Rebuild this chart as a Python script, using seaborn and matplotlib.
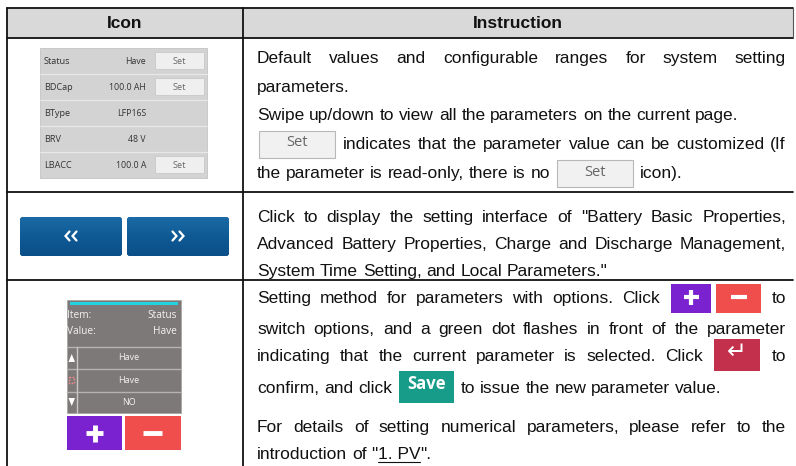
import re
import numpy as np
import matplotlib
matplotlib.use("Agg")
import matplotlib.pyplot as plt
from matplotlib.patches import Rectangle, FancyBboxPatch, Polygon
import seaborn as sns

sns.set_theme(style="white")
plt.rcParams['font.family'] = ['Liberation Sans', 'DejaVu Sans']

# ---- table content ----
headers = ["Icon", "Instruction"]

param_names = ["Status", "BDCap", "BType", "BRV", "LBACC"]
param_values = ["Have", "100.0 AH", "LFP16S", "48 V", "100.0 A"]
param_settable = [True, True, False, False, True]

nav_dirs = [-1, 1]   # << and >>

option_item = ["Item:", "Status"]
option_value = ["Value:", "Have"]
option_choices = ["Have", "Have", "NO"]

# (text, justified)  {..} = inline icon, [..] = underlined, ~ = space
row1_lines = [
    ("Default values and configurable ranges for system setting", True),
    ("parameters.", False),
    ("Swipe up/down to view all the parameters on the current page.", False),
    ("{SET} indicates that the parameter value can be customized (If", True),
    ("the parameter is read-only, there is no {SET} icon).", False),
]
row2_lines = [
    ('Click to display the setting interface of "Battery Basic Properties,', True),
    ("Advanced Battery Properties, Charge and Discharge Management,", True),
    ('System Time Setting, and Local Parameters."', False),
]
row3_lines = [
    ("Setting method for parameters with options. Click {PM} to", True),
    ("switch options, and a green dot flashes in front of the parameter", True),
    ("indicating that the current parameter is selected. Click {ENTER} to", True),
    ("confirm, and click {SAVE} to issue the new parameter value.", False),
    ("For details of setting numerical parameters, please refer to the", True),
    ('introduction of "[1.~PV]".', False),
]
row1_base = [63, 92, 120, 149, 178]
row2_base = [222, 249, 276]
row3_base = [303, 334, 361, 393, 432, 459]

BODY_FS = 12.5
W, H = 796, 466

fig = plt.figure(figsize=(W / 100, H / 100), dpi=100)
ax = fig.add_axes([0, 0, 1, 1])
ax.set_xlim(0, W)
ax.set_ylim(H, 0)
ax.axis("off")
renderer = fig.canvas.get_renderer()

# ---- grid ----
X0, XC, X1 = 7, 243, 793
Y0, YH, YR1, YR2 = 8, 38, 192, 280
ax.add_patch(Rectangle((X0, Y0), X1 - X0, YH - Y0, fc="#d9d9d9", ec="none"))
lk = dict(color="#111111", lw=1.3)
ax.plot([X0, X1], [Y0, Y0], **lk)
for y in (YH, YR1, YR2):
    ax.plot([X0, X1], [y, y], **lk)
ax.plot([X0, X0], [Y0, H], **lk)
ax.plot([XC, XC], [Y0, H], **lk)
ax.plot([X1, X1], [Y0, YH], color="#555555", lw=0.8)
ax.text((X0 + XC) / 2, (Y0 + YH) / 2 + 1, headers[0], ha="center", va="center",
        fontsize=12.5, weight="bold", color="#111111")
ax.text((XC + X1) / 2, (Y0 + YH) / 2 + 1, headers[1], ha="center", va="center",
        fontsize=12.5, weight="bold", color="#111111")

UI = ['Open Sans', 'DejaVu Sans']

# ---- icon 1 : parameter panel ----
px0, px1, py0, ph = 40, 207, 48, 26
ax.add_patch(Rectangle((px0, py0), px1 - px0, ph * len(param_names), fc="#d3d3d3", ec="#c4c4c4", lw=0.6))
for i, (nm, val, st) in enumerate(zip(param_names, param_values, param_settable)):
    yc = py0 + ph * i + ph / 2
    if i > 0:
        ax.plot([px0, px1], [py0 + ph * i] * 2, color="#e8e8e8", lw=0.9)
    ax.text(px0 + 4, yc, nm, ha="left", va="center", fontsize=6.6, family=UI, color="#333333")
    ax.text(146, yc, val, ha="right", va="center", fontsize=6.3, family=UI, color="#333333")
    if st:
        ax.add_patch(Rectangle((155, yc - 9), 49, 17, fc="#efefef", ec="#c9c9c9", lw=0.6))
        ax.text(179.5, yc, "Set", ha="center", va="center", fontsize=6.6, family=UI, color="#666666")

# ---- icon 2 : navigation buttons ----
grad = np.linspace(0, 1, 64).reshape(-1, 1)
cmap_nav = matplotlib.colors.LinearSegmentedColormap.from_list("nav", ["#1b6aa5", "#0f5a95", "#0b4f88"])
for (bx0, bx1), d in zip([(20, 122), (127, 229)], nav_dirs):
    box = FancyBboxPatch((bx0, 217), bx1 - bx0, 39, boxstyle="round,pad=0,rounding_size=3",
                         fc="#0f5a95", ec="none")
    ax.add_patch(box)
    im = ax.imshow(grad, extent=(bx0, bx1, 256, 217), cmap=cmap_nav, aspect="auto", zorder=2)
    im.set_clip_path(box)
    cx = (bx0 + bx1) / 2
    for off in (-3.5, 3.5):
        tip = cx + off + 2 * d
        ax.plot([tip - 4 * d, tip, tip - 4 * d], [231.5, 236, 240.5], color="white", lw=1.6,
                solid_joinstyle="miter", zorder=3)
ax.set_xlim(0, W)
ax.set_ylim(H, 0)

# ---- icon 3 : option selector ----
ox0, ox1 = 67, 181
ax.add_patch(Rectangle((ox0, 300), ox1 - ox0, 113, fc="#7e7979", ec="#a9a5a5", lw=0.6))
ax.add_patch(Rectangle((70, 302), 108, 3, fc="#22d3e0", ec="none"))
ax.text(67, 315, option_item[0], ha="left", va="center", fontsize=7.3, family=UI, color="#f2f2f2")
ax.text(177, 315, option_item[1], ha="right", va="center", fontsize=7.3, family=UI, color="#f2f2f2")
ax.text(67, 332, option_value[0], ha="left", va="center", fontsize=7.3, family=UI, color="#f2f2f2")
ax.text(177, 332, option_value[1], ha="right", va="center", fontsize=7.3, family=UI, color="#f2f2f2")
sep = [347, 369, 392]
for y in sep:
    ax.plot([ox0, ox1], [y, y], color="#b5b2b2", lw=1)
ax.plot([77, 77], [347, 413], color="#c9c6c6", lw=1)
for y0, y1, lab in zip(sep, sep[1:] + [413], option_choices):
    ax.text(129, (y0 + y1) / 2, lab, ha="center", va="center", fontsize=6.5, family=UI, color="#f2f2f2")
ax.add_patch(Polygon([[68.5, 362], [75, 362], [71.7, 354]], fc="white", ec="none"))
ax.add_patch(Polygon([[68.5, 398], [75, 398], [71.7, 406]], fc="white", ec="none"))
ax.add_patch(Rectangle((68.5, 377), 5, 6, fc="none", ec="#f08a8a", lw=1.0, ls=(0, (1.2, 1))))
ax.add_patch(Rectangle((67, 416), 55, 34, fc="#7b22d0", ec="none"))
ax.add_patch(Rectangle((125, 416), 56, 34, fc="#f04d4d", ec="none"))
ax.plot([86, 103], [433, 433], color="white", lw=3.5, solid_capstyle="butt")
ax.plot([94.5, 94.5], [424.5, 441.5], color="white", lw=3.5, solid_capstyle="butt")
ax.plot([143, 162], [433, 433], color="white", lw=3.5, solid_capstyle="butt")


# ---- inline icons ----
def icon_set(x, base):
    yc = base - 5
    ax.add_patch(Rectangle((x, yc - 13), 76, 27, fc="#f1f1f1", ec="#b8b8b8", lw=0.8))
    ax.text(x + 38, yc - 1, "Set", ha="center", va="center", fontsize=10.5, family=UI, color="#666666")


def icon_pm(x, base):
    yc = base - 5
    ax.add_patch(Rectangle((x, yc - 14), 40, 29, fc="#7b22d0", ec="none"))
    ax.add_patch(Rectangle((x + 45, yc - 14), 45, 29, fc="#f04d4d", ec="none"))
    ax.plot([x + 13, x + 28], [yc - 1, yc - 1], color="white", lw=3, solid_capstyle="butt")
    ax.plot([x + 20.5, x + 20.5], [yc - 8.5, yc + 6.5], color="white", lw=3, solid_capstyle="butt")
    ax.plot([x + 60, x + 76], [yc - 1, yc - 1], color="white", lw=3, solid_capstyle="butt")


def icon_enter(x, base):
    yc = base - 6
    ax.add_patch(Rectangle((x, yc - 16), 46, 32, fc="#c2304b", ec="none"))
    ax.text(x + 23, yc - 3, "↵", ha="center", va="center", fontsize=17,
            family=['DejaVu Sans'], color="white")


def icon_save(x, base):
    yc = base - 6
    ax.add_patch(Rectangle((x, yc - 16), 55, 32, fc="#169c89", ec="none"))
    ax.text(x + 27.5, yc - 3, "Save", ha="center", va="center", fontsize=12,
            family=UI, weight="bold", color="white")


ICONS = {"{SET}": (76, icon_set), "{PM}": (90, icon_pm),
         "{ENTER}": (46, icon_enter), "{SAVE}": (55, icon_save)}
PAD = 2


def text_width(s):
    t = ax.text(0, 0, s, fontsize=BODY_FS)
    w = t.get_window_extent(renderer).width
    t.remove()
    return w


SPACE = text_width("x x") - text_width("xx")


def word_parts(word):
    return [p for p in re.split(r"(\[[^\]]*\])", word) if p]


def word_width(word):
    if word in ICONS:
        return ICONS[word][0] + 2 * PAD
    return sum(text_width(p.strip("[]").replace("~", " ")) for p in word_parts(word))


def draw_word(word, x, base):
    if word in ICONS:
        ICONS[word][1](x + PAD, base)
        return
    for p in word_parts(word):
        s = p.strip("[]").replace("~", " ")
        w = text_width(s)
        ax.text(x, base, s, fontsize=BODY_FS, ha="left", va="baseline", color="#111111")
        if p.startswith("["):
            ax.plot([x, x + w], [base + 2.5, base + 2.5], color="#111111", lw=0.8)
        x += w


TX0, TX1 = 257, 786


def draw_lines(lines, bases):
    for (line, just), base in zip(lines, bases):
        words = line.split(" ")
        widths = [word_width(w) for w in words]
        gap = SPACE
        if just and len(words) > 1:
            gap = (TX1 - TX0 - sum(widths)) / (len(words) - 1)
        x = TX0
        for w, ww in zip(words, widths):
            draw_word(w, x, base)
            x += ww + gap


draw_lines(row1_lines, row1_base)
draw_lines(row2_lines, row2_base)
draw_lines(row3_lines, row3_base)

fig.savefig("out.png", dpi=100)
